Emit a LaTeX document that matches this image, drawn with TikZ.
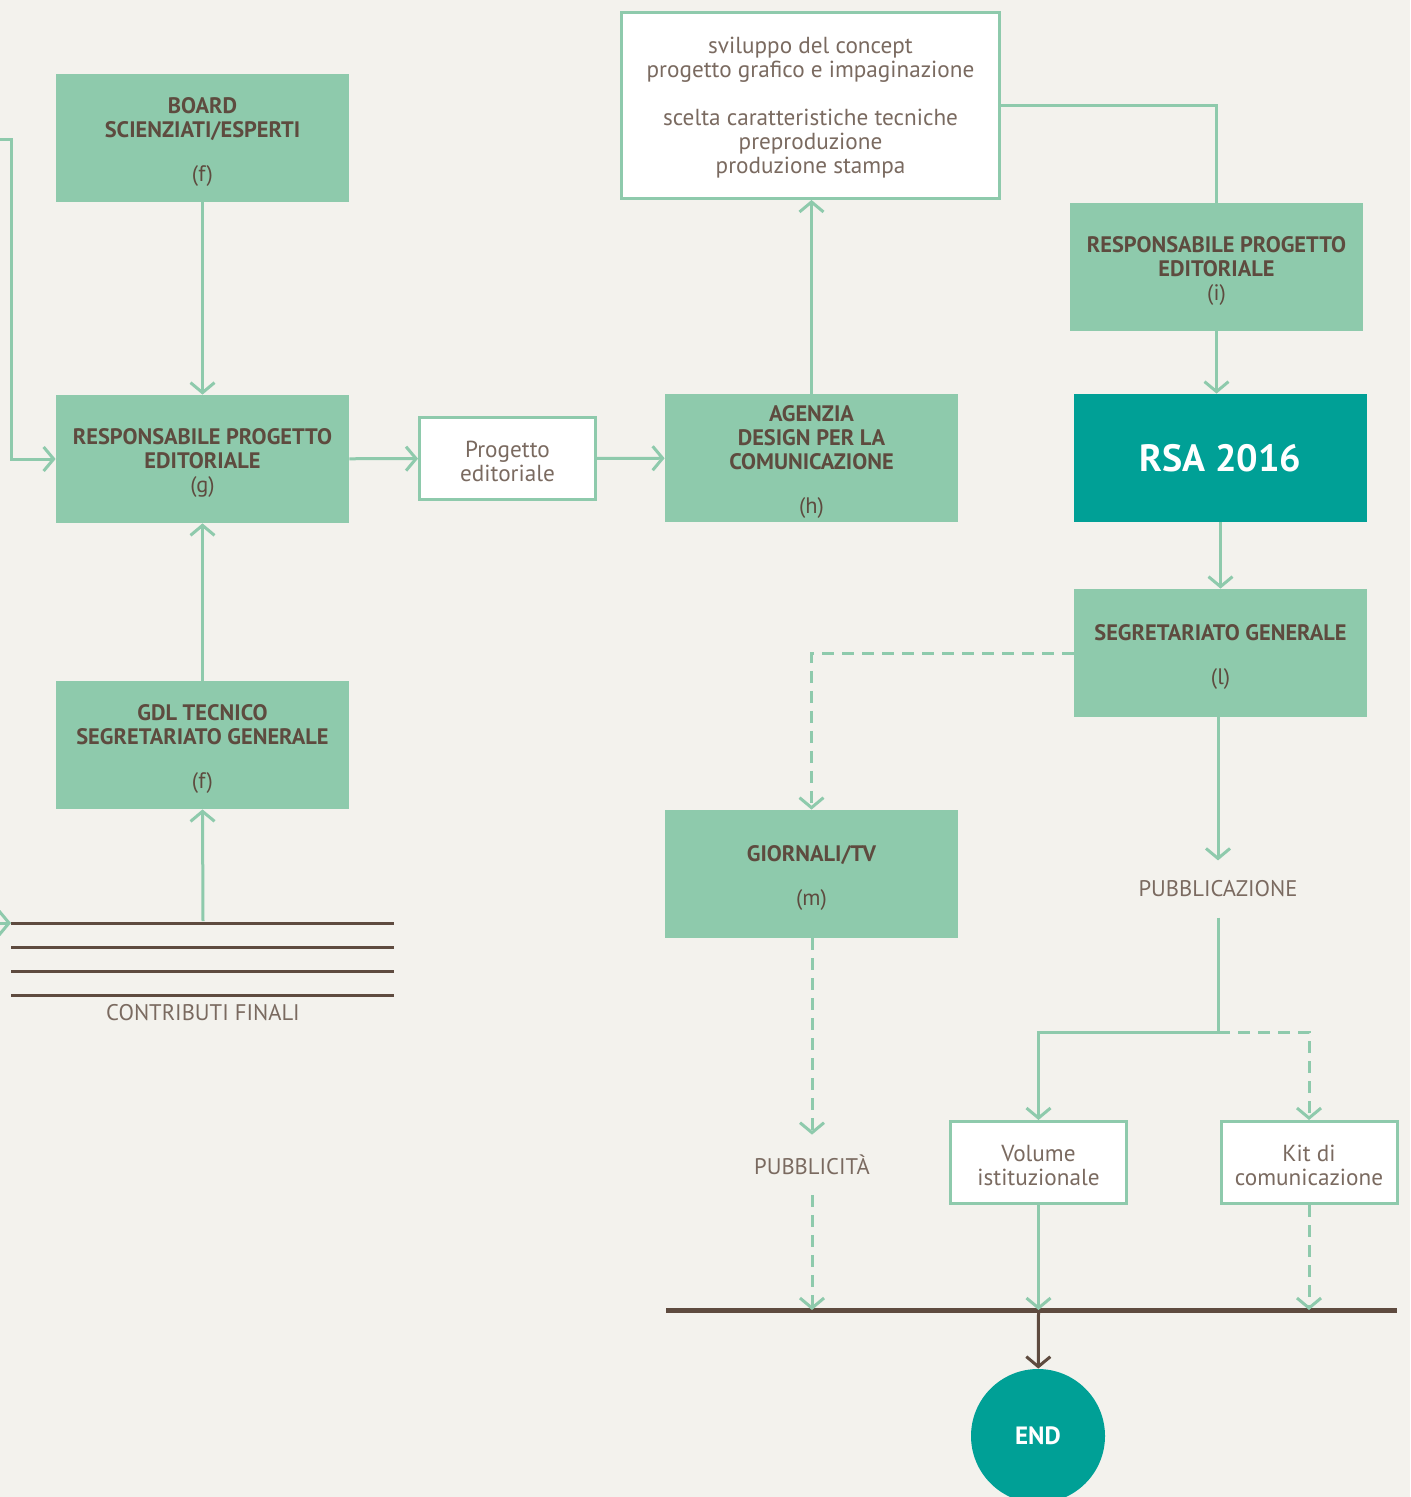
\documentclass[tikz,border=0pt]{standalone}
\usepackage{fontspec}
\setmainfont{PT Sans}
\usepackage{tikz}
\usetikzlibrary{arrows.meta}
\definecolor{rsagreen}{HTML}{8ECAAC}
\definecolor{rsateal}{HTML}{00A096}
\definecolor{rsabrown}{HTML}{5E4B3F}
\definecolor{rsagrey}{HTML}{7A6A60}
\definecolor{rsabg}{HTML}{F3F2ED}
\newcommand{\topstrut}{\rule{0pt}{12pt}}
\newcommand{\wstrut}{\rule{0pt}{10.8pt}}
\tikzstyle{box_g} = [rectangle, fill=rsagreen, text=rsabrown, font=\bfseries\fontsize{11.2}{12}\selectfont, align=center, inner sep=0pt, minimum width=146.5pt, minimum height=64pt]
\tikzstyle{box_t} = [rectangle, fill=rsateal, text=white, font=\bfseries\fontsize{19}{24}\selectfont, align=center, inner sep=0pt, minimum width=146.5pt, minimum height=64pt]
\tikzstyle{box_w} = [rectangle, fill=white, draw=rsagreen, line width=1.5pt, text=rsagrey, font=\fontsize{11.6}{12}\selectfont, align=center, inner sep=0pt]
\tikzstyle{lbl} = [text=rsagrey, font=\fontsize{11.3}{12}\selectfont, inner xsep=0pt, inner ysep=10pt]
\tikzstyle{flow} = [-{Straight Barb[length=5pt,width=12pt]}, draw=rsagreen, line width=1.5pt]
\tikzstyle{flow_d} = [flow, dash pattern=on 6pt off 4pt]
\tikzstyle{bar} = [draw=rsabrown, line width=1.5pt]

\begin{document}
\begin{tikzpicture}[x=0.5pt,y=-0.5pt]
\fill[rsabg] (0,0) rectangle (1410,1497);
\useasboundingbox (0,0) rectangle (1410,1497);

\node [box_g] (board) at (202.5,138) {\topstrut BOARD\\SCIENZIATI/ESPERTI\\[10pt]\mdseries(f)};
\node [box_g] (resp_g) at (202.5,459) {\topstrut RESPONSABILE PROGETTO\\EDITORIALE\\\mdseries(g)};
\node [box_g] (gdl) at (202.5,745) {\topstrut GDL TECNICO\\SEGRETARIATO GENERALE\\[10pt]\mdseries(f)};
\node [box_w, minimum width=88pt, minimum height=41pt] (prog) at (507.5,458.5) {\wstrut Progetto\\editoriale};
\node [box_g] (agenzia) at (811.5,458) {\topstrut AGENZIA\\DESIGN PER LA\\COMUNICAZIONE\\[10pt]\mdseries(h)};
\node [box_w, minimum width=189pt, minimum height=93pt] (concept) at (810.5,105.5) {\wstrut sviluppo del concept\\progetto grafico e impaginazione\\[12pt]scelta caratteristiche tecniche\\preproduzione\\produzione stampa};
\node [box_g] (resp_i) at (1216.5,267) {\topstrut RESPONSABILE PROGETTO\\EDITORIALE\\\mdseries(i)};
\node [box_t] (rsa) at (1220.5,458) {RSA 2016};
\node [box_g] (segr) at (1220.5,653) {\topstrut SEGRETARIATO GENERALE\\[10pt]\mdseries(l)};
\node [box_g] (giornali) at (811.5,874) {\topstrut GIORNALI/TV\\[10pt]\mdseries(m)};
\node [lbl] (pubbl) at (1218,889) {PUBBLICAZIONE};
\node [lbl] (pubblicita) at (812,1165) {PUBBLICITÀ};
\node [box_w, minimum width=88pt, minimum height=41pt] (volume) at (1038.5,1162.5) {\wstrut Volume\\istituzionale};
\node [box_w, minimum width=88pt, minimum height=41pt] (kit) at (1309,1162.5) {\wstrut Kit di\\comunicazione};
\node [circle, fill=rsateal, text=white, font=\bfseries\fontsize{12.5}{14}\selectfont, minimum size=67pt, inner sep=0pt] (end) at (1038,1436) {END};
\node [lbl, inner ysep=0pt] (contrib) at (203,1013) {CONTRIBUTI FINALI};

\foreach \y in {923,947,971,995}
    \draw[bar] (11,\y) -- (394,\y);
\draw[bar, line width=2.5pt] (666,1310) -- (1397,1310);

\coordinate (in_top) at (0,140);
\coordinate (in_bend) at (11,140);
\coordinate (in_low) at (0,923);
\coordinate (c_left) at (11,923);
\coordinate (c_top) at (203,921);
\coordinate (split) at (1218,1032);
\coordinate (bar_l) at (666,1310);

\draw[flow] (in_top) -- (in_bend) |- (resp_g.west);
\draw[flow] (in_low) -- (c_left);
\draw[flow] (board) -- (resp_g);
\draw[flow] (gdl) -- (resp_g);
\draw[flow] (c_top) -- (gdl.south);
\draw[flow] (resp_g) -- (prog);
\draw[flow] (prog) -- (agenzia);
\draw[flow] (agenzia.north) -- (agenzia.north |- concept.south);
\draw[draw=rsagreen, line width=1.5pt] (concept.east) -| (resp_i.north);
\draw[flow] (resp_i.south) -- (resp_i.south |- rsa.north);
\draw[flow] (rsa) -- (segr);
\draw[flow] (segr.south -| pubbl) -- (pubbl.north);
\draw[flow_d] (segr.west) -| (giornali.north);
\draw[flow_d] (giornali.south -| pubblicita) -- (pubblicita.north);
\draw[flow_d] (pubblicita.south) -- (pubblicita.south |- bar_l);
\draw[flow] (pubbl.south) -- (split) -| (volume.north);
\draw[flow_d] (split) -| (kit.north);
\draw[flow] (volume.south) -- (volume.south |- bar_l);
\draw[flow_d] (kit.south) -- (kit.south |- bar_l);
\draw[-{Straight Barb[length=5pt,width=12pt]}, draw=rsabrown, line width=1.5pt] (volume.south |- bar_l) -- (end);
\end{tikzpicture}
\end{document}
